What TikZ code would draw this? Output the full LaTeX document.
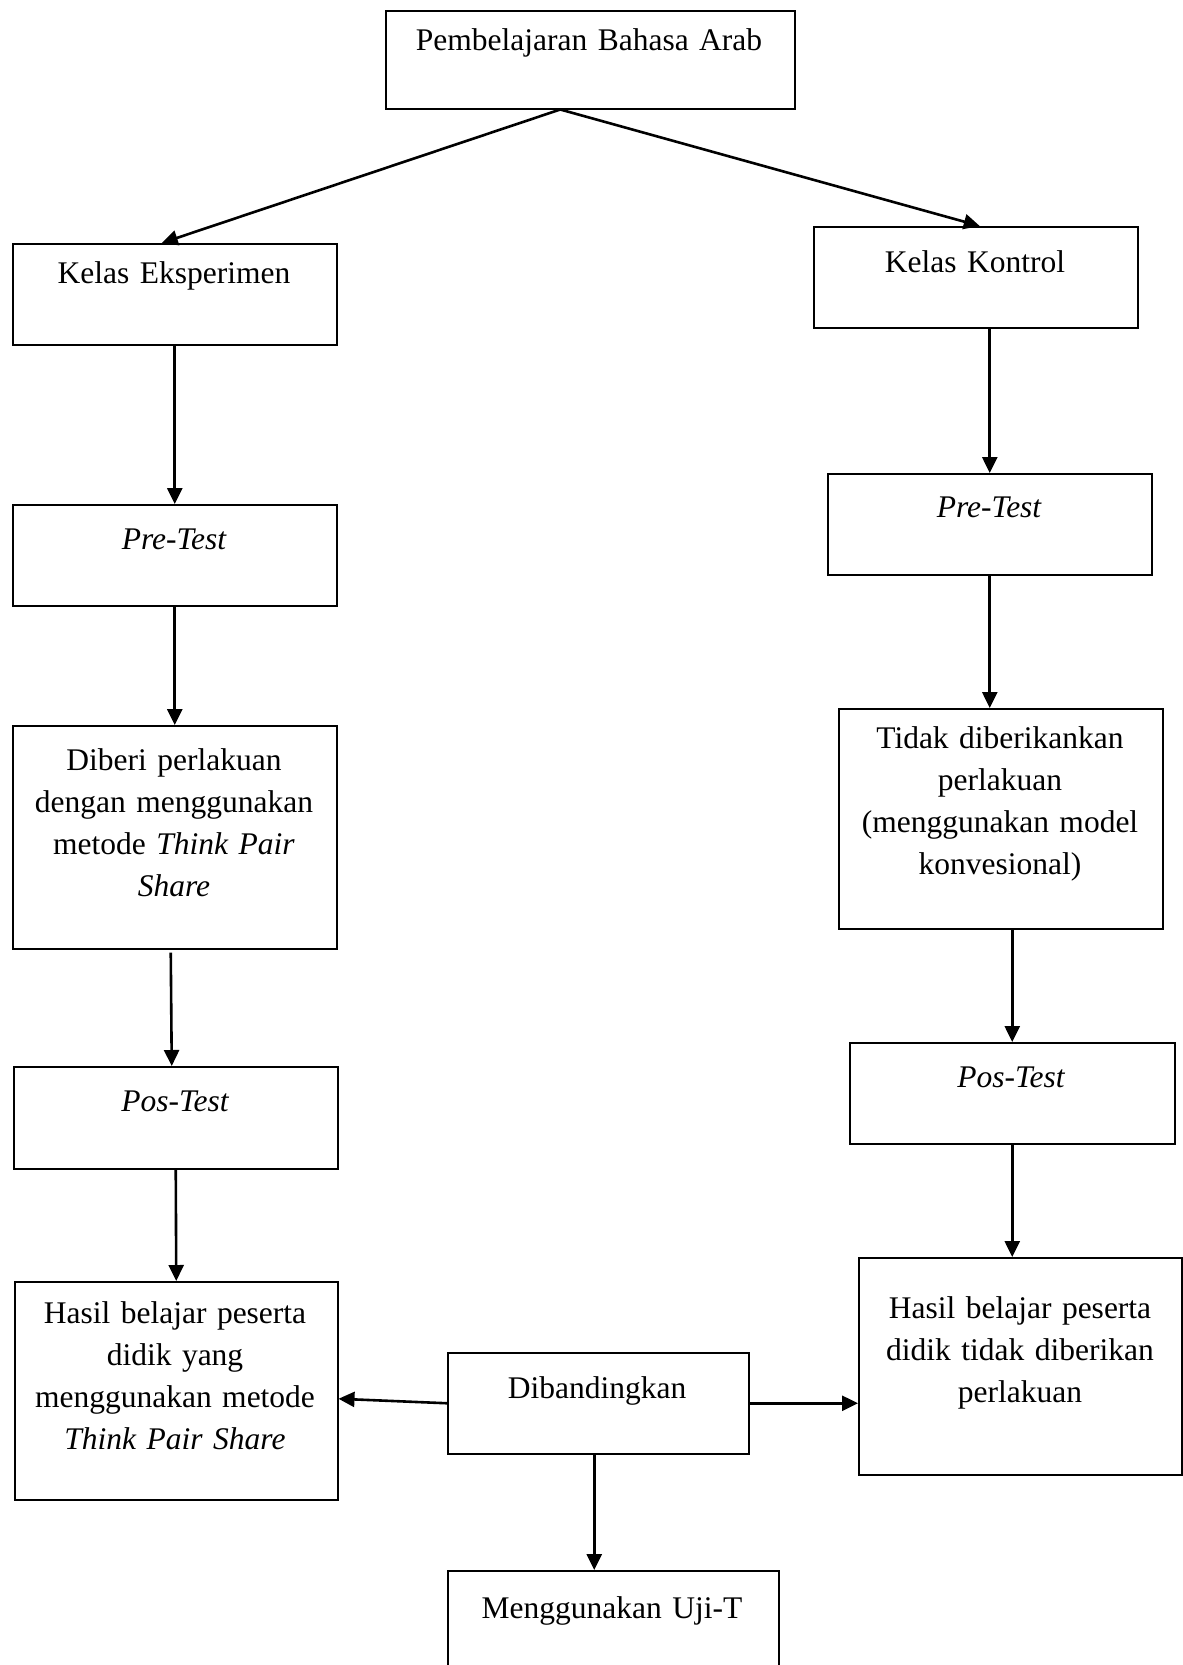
\documentclass[tikz,border=0pt]{standalone}
\usepackage{fontspec}
\setmainfont{Liberation Serif}
\usetikzlibrary{arrows.meta}
\begin{document}
\begin{tikzpicture}[x=1pt,y=-1pt,
  box/.style={draw=black,line width=1.5pt,rectangle,anchor=north west,inner sep=0pt},
  lbl/.style={anchor=base,inner sep=0pt,text width=320pt,align=center,
    font=\fontsize{31.5}{42}\selectfont},
  arr/.style={line width=2.6pt,-{Triangle[length=16pt,width=15pt]}}]
\useasboundingbox[fill=white] (0,0) rectangle (1183,1665);
% boxes
\node[box,minimum width=409pt,minimum height=98pt] (top) at (385,10) {};
\node[box,minimum width=324pt,minimum height=101pt] (eksp) at (12,243) {};
\node[box,minimum width=324pt,minimum height=101pt] (kontrol) at (813,226) {};
\node[box,minimum width=324pt,minimum height=101pt] (preL) at (12,504) {};
\node[box,minimum width=324pt,minimum height=101pt] (preR) at (827,473) {};
\node[box,minimum width=324pt,minimum height=223pt] (diberi) at (12,725) {};
\node[box,minimum width=324pt,minimum height=220pt] (tidak) at (838,708) {};
\node[box,minimum width=324pt,minimum height=102pt] (posL) at (13,1066) {};
\node[box,minimum width=325pt,minimum height=101pt] (posR) at (849,1042) {};
\node[box,minimum width=323pt,minimum height=218pt] (hasilL) at (14,1281) {};
\node[box,minimum width=301pt,minimum height=101pt] (dib) at (447,1352) {};
\node[box,minimum width=323pt,minimum height=217pt] (hasilR) at (858,1257) {};
\node[box,minimum width=331pt,minimum height=120pt] (uji) at (447,1570) {};
% labels
\node[lbl,text width=400pt] (tTop) at (589,50) {Pembelajaran Bahasa Arab};
\node[lbl] (tEksp) at (174,283) {Kelas Eksperimen};
\node[lbl] (tKontrol) at (975,272) {Kelas Kontrol};
\node[lbl] (tPreL) at (174,549) {\itshape Pre-Test};
\node[lbl] (tPreR) at (989,517) {\itshape Pre-Test};
\node[lbl] (tDiberi) at (174,770) {Diberi perlakuan\\dengan menggunakan\\metode \textit{Think Pair}\\\textit{Share}};
\node[lbl] (tTidak) at (1000,748) {Tidak diberikankan\\perlakuan\\(menggunakan model\\konvesional)};
\node[lbl] (tPosL) at (175,1111) {\itshape Pos-Test};
\node[lbl] (tPosR) at (1011,1087) {\itshape Pos-Test};
\node[lbl] (tHasilL) at (175,1323) {Hasil belajar peserta\\didik yang\\menggunakan metode\\\textit{Think Pair Share}};
\node[lbl] (tDib) at (597,1398) {Dibandingkan};
\node[lbl] (tHasilR) at (1020,1318) {Hasil belajar peserta\\didik tidak diberikan\\perlakuan};
\node[lbl] (tUji) at (612,1618) {Menggunakan Uji-T};
% connectors
\draw[arr] ([xshift=-30pt]top.south) -- ([xshift=-13pt]eksp.north);
\draw[arr] ([xshift=-30pt]top.south) -- ([xshift=4pt]kontrol.north);
\draw[arr] (eksp.south) -- (preL.north);
\draw[arr] (preL.south) -- (diberi.north);
\draw[arr] ([xshift=-4pt,yshift=-3pt]diberi.south) -- ([xshift=-4pt]posL.north);
\draw[arr] (posL.south) -- (hasilL.north);
\draw[arr] (preR.north |- kontrol.south) -- (preR.north);
\draw[arr] (preR.south) -- (preR.south |- tidak.north);
\draw[arr] (posR.north |- tidak.south) -- (posR.north);
\draw[arr] (posR.south) -- (posR.south |- hasilR.north);
\draw[arr] (dib.west) -- ([yshift=-8pt]hasilL.east);
\draw[arr] (dib.east) -- (hasilR.west |- dib.east);
\draw[arr] ([xshift=-4pt]dib.south) -- ([xshift=-4pt]dib.south |- uji.north);
\end{tikzpicture}
\end{document}
